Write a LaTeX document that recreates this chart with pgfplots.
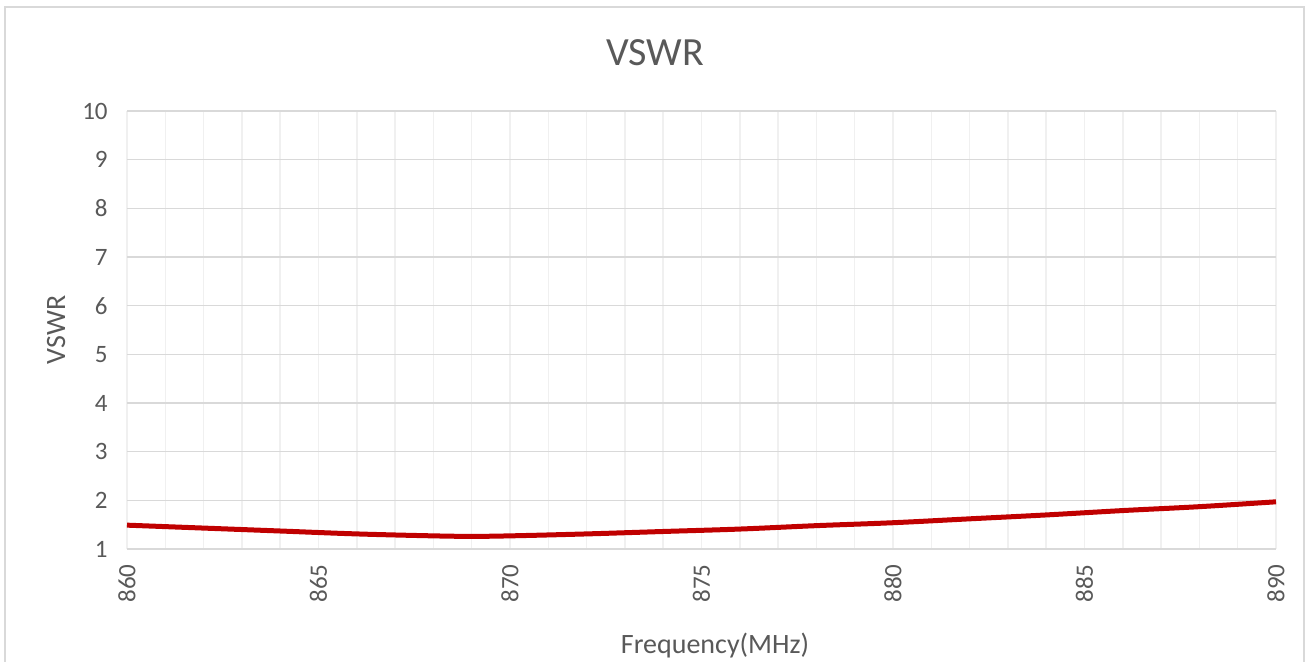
\documentclass[border=0pt]{standalone}
\usepackage{fontspec}
\setmainfont{Carlito}
\usepackage{pgfplots}
\pgfplotsset{compat=1.18}

\definecolor{txt}{RGB}{89,89,89}
\definecolor{gridmaj}{RGB}{217,217,217}
\definecolor{gridmin}{RGB}{240,240,240}
\definecolor{curve}{RGB}{192,0,0}

\begin{document}
\begin{tikzpicture}[x=0.5pt,y=0.5pt]
\useasboundingbox (0,0) rectangle (1307,661);
% chart frame (bottom edge falls outside the picture)
\begin{scope}
  \clip (0,0) rectangle (1307,661);
  \draw[gridmaj, line width=1pt] (5,-20) rectangle (1303.5,654);
\end{scope}

\begin{axis}[
    at={(63.5pt,56pt)},
    anchor=south west,
    scale only axis,
    width=574.5pt,
    height=219pt,
    xmin=860, xmax=890,
    ymin=1, ymax=10,
    xtick={860,865,...,890},
    minor x tick num=4,
    ytick={1,2,...,10},
    xmajorgrids, xminorgrids, ymajorgrids,
    major x grid style={draw=gridmin, line width=0.75pt},
    minor x grid style={draw=gridmin, line width=0.75pt},
    major y grid style={draw=gridmaj, line width=0.75pt},
    axis line style={draw=none},
    tick style={draw=none},
    major tick length=0pt,
    minor tick length=0pt,
    ticklabel style={font=\fontsize{12.5}{14}\selectfont, text=txt},
    xticklabel style={yshift=-7.5pt, rotate=90, anchor=east, inner sep=0pt},
    yticklabel style={xshift=-9.5pt, anchor=east, inner sep=0pt},
    /pgf/number format/assume math mode=true,
    /pgf/number format/1000 sep={},
    clip=false,
]

\addplot[curve, line width=2.5pt, smooth, tension=0.6] coordinates {
    (860, 1.49)
    (862, 1.43)
    (864, 1.37)
    (866, 1.31)
    (868, 1.27)
    (869, 1.26)
    (870, 1.27)
    (872, 1.31)
    (874, 1.36)
    (876, 1.41)
    (878, 1.48)
    (880, 1.54)
    (882, 1.62)
    (884, 1.70)
    (886, 1.79)
    (888, 1.87)
    (890, 1.97)
};

\end{axis}

% title and axis titles
\node[anchor=base, text=txt, font=\fontsize{20}{24}\selectfont, inner sep=0pt] at (655,596) {VSWR};
\node[anchor=base, text=txt, font=\fontsize{14}{17}\selectfont, inner sep=0pt] at (715,8) {Frequency(MHz)};
\node[anchor=base, rotate=90, text=txt, font=\fontsize{14}{17}\selectfont, inner sep=0pt] at (65,331) {VSWR};
\end{tikzpicture}
\end{document}
